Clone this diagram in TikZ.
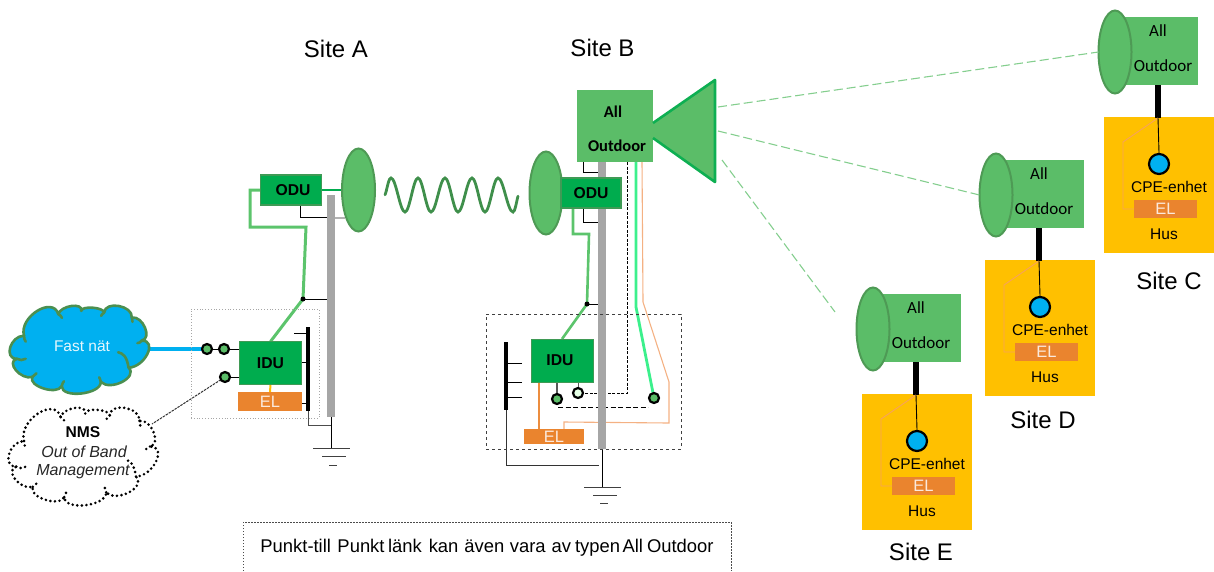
\documentclass[tikz,border=0pt]{standalone}
\usepackage{fontspec}
\setmainfont{Liberation Sans}
\newfontfamily\carlito{Carlito}
\usetikzlibrary{shapes.geometric,calc}
\definecolor{dishfill}{HTML}{5BBD68}
\definecolor{dishline}{HTML}{4E9A55}
\definecolor{idugreen}{HTML}{00AC4E}
\definecolor{iduline}{HTML}{3F9A55}
\definecolor{wirelight}{HTML}{5CC46C}
\definecolor{wiremint}{HTML}{3CF08C}
\definecolor{elorange}{HTML}{EA842E}
\definecolor{wireorange}{HTML}{F4B183}
\definecolor{hus}{HTML}{FFC000}
\definecolor{skyblue}{HTML}{00B0F0}
\definecolor{mastgrey}{HTML}{A6A6A6}
\definecolor{cloudline}{HTML}{4B8F50}
\definecolor{wavegreen}{HTML}{3F8F4B}
\definecolor{elwhite}{HTML}{FBE9DC}
\pgfdeclarelayer{wires}\pgfdeclarelayer{masts}
\pgfsetlayers{wires,masts,main}
\newcommand\fs[1]{\fontsize{#1}{#1}\selectfont}
\newcommand\cloudoutline{(13.3,30) .. controls (7.8,11.1) and (42.8,-10.6) .. (48.3,8.3)
  .. controls (50.6,-.6) and (74,-3.9) .. (71.7,5)
  .. controls (71.7,-.5) and (95,1.2) .. (95,6.7)
  .. controls (96.1,-5.6) and (124.4,-.6) .. (123.3,11.7)
  .. controls (134.5,9.6) and (144.5,32.9) .. (133.3,35)
  .. controls (150.1,34.5) and (136.8,61.8) .. (120,62.3)
  .. controls (130,71.9) and (101.7,86.3) .. (91.7,76.7)
  .. controls (91.7,89.4) and (51.7,93.7) .. (51.7,81)
  .. controls (47.2,90.3) and (17.2,81) .. (21.7,71.7)
  .. controls (10,75) and (-5.7,56.6) .. (6,53.3)
  .. controls (-7.9,53.3) and (-.6,30) .. (13.3,30) -- cycle}
\newcommand\cloudinner{(120,62.3) .. controls (118,50) and (114,48) .. (109.3,46.7)
  (6,53.3) .. controls (9,55) and (12,55) .. (15,53.3)
  (133.3,35) .. controls (132,37) and (131,37) .. (129,37.5)
  (13.3,30) .. controls (13,33) and (14,34) .. (15,36)
  (48.3,8.3) .. controls (50,9) and (51,10) .. (52,12)
  (95,6.7) .. controls (93,8) and (92.5,9) .. (92,10)
  (123.3,11.7) .. controls (124,13) and (124,14) .. (124,16)
  (21.7,71.7) .. controls (23,70) and (24,69) .. (26,68)
  (91.7,76.7) .. controls (91,74) and (90.5,73) .. (90,72)
  (51.7,81) .. controls (52,79) and (53,77.5) .. (54,76)}
\tikzset{
  x=1pt,y=-1pt,
  box/.style={rectangle,inner sep=0pt,outer sep=0pt},
  dish/.style={ellipse,inner sep=0pt,outer sep=0pt,minimum width=33,minimum height=83,fill=dishfill,draw=dishline,line width=2},
  unitbox/.style={box,fill=idugreen,draw=iduline,line width=1.5,font=\fs{15.7}\bfseries},
  elbox/.style={box,fill=elorange,text=elwhite,font=\fs{16.5}},
  aobox/.style={box,fill=dishfill},
  aotext/.style={font=\carlito\fs{17},inner sep=0pt},
  port/.style={circle,inner sep=0pt,outer sep=0pt,minimum size=10,fill=dishfill,draw=black,line width=2.2},
  label/.style={inner sep=0pt,font=\fs{15.5}},
  sitelabel/.style={inner sep=0pt,font=\fs{24}},
  mast/.style={box,fill=mastgrey,minimum width=8},
  bar/.style={box,fill=black,minimum width=3.6},
  thin/.style={black,line width=.8},
  greenw/.style={wirelight,line width=3},
  jdot/.style={circle,fill=black,inner sep=0pt,minimum size=5},
  gnd/.style={black!75,line width=1},
}
\newcommand\cpesite[4]{% prefix, dx, dy, box width
\begin{scope}[shift={(#2,#3)},name prefix=#1-]
  \node[box,fill=hus,minimum width=110,minimum height=136,anchor=north west] (house) at (862,394) {};
  \node[aobox,minimum width=#4,minimum height=68,anchor=west] (ao) at (883,328) {};
  \node[dish] (dish) at (873,329) {};
  \node[aotext] (all) at (916,308) {All};
  \node[aotext] (out) at (921,343) {Outdoor};
  \node[box,fill=black,minimum width=6,anchor=north,minimum height=33] (cable) at (916,362) {};
  \node[circle,inner sep=0pt,minimum size=20,fill=skyblue,draw=black,line width=2.2] (cpe) at (917,441) {};
  \node[label] (cpetext) at (927,464) {CPE-enhet};
  \node[elbox,minimum width=63,minimum height=18] (el) at (923.5,486) {EL};
  \node[label] (hustext) at (922,511) {Hus};
  \coordinate (b1) at (881,419);
  \draw[wireorange!70!orange,line width=.9] (cable.south) -- (b1) |- (el.west);
  \draw[black,line width=.9] (cable.south) -- (cpe.north);
\end{scope}}
\begin{document}
\begin{tikzpicture}
\useasboundingbox (0,0) rectangle (1214,571);
% ---- site labels
\node[sitelabel] (siteA) at (336,49) {Site A};
\node[sitelabel] (siteB) at (602.5,48) {Site B};
\node[sitelabel] (siteC) at (1169,281) {Site C};
\node[sitelabel] (siteD) at (1043,420) {Site D};
\node[sitelabel] (siteE) at (921,552) {Site E};
% ---- clouds
\begin{scope}[shift={(11,306)},xscale=.98,yscale=.99]
\draw[fill=skyblue,draw=cloudline,line width=2.6,line join=round] \cloudoutline;
\draw[cloudline,line width=2.6,line cap=round] \cloudinner;
\end{scope}
\node[box,minimum width=139,minimum height=88] (fast) at (79.5,349) {};
\node[inner sep=0pt,font=\fs{15.5},text=white!90!skyblue] (fasttext) at (82,346) {Fast nät};
\begin{scope}[shift={(10,408)},xscale=1.05,yscale=1.1]
\draw[draw=black,line width=2.9,line cap=round,dash pattern=on 0pt off 4.6pt] \cloudoutline;
\draw[draw=black,line width=2.9,line cap=round,dash pattern=on 0pt off 4.6pt] \cloudinner;
\end{scope}
\node[inner sep=0pt,font=\fs{15.6}\bfseries] (nmst) at (83,432) {NMS};
\node[inner sep=0pt,font=\fs{16}\itshape,text=black!85] (nmsa) at (84,452) {Out of Band};
\node[inner sep=0pt,font=\fs{16}\itshape,text=black!85] (nmsb) at (83,472) {Management};
\coordinate (nmsport) at (152,424);
% ---- Site A
\node[box,draw=black!35,dotted,line width=.8,minimum width=128,minimum height=109] (frameA) at (255,363.5) {};
\begin{pgfonlayer}{masts}
\node[mast,minimum height=222,anchor=north] (mastA) at (331,195) {};
\end{pgfonlayer}
\node[dish] (dishA) at (358.5,190) {};
\node[unitbox,minimum width=61,minimum height=30] (oduA) at (291,190) {\hspace{4pt}ODU};
\node[unitbox,minimum width=62,minimum height=43] (iduA) at (270.5,363) {IDU};
\node[elbox,minimum width=64,minimum height=19] (elA) at (270,401.5) {EL};
\node[port] (p1) at (207,349) {};
\node[port] (p2) at (224,349) {};
\node[port] (p3) at (225,377) {};
\node[bar,minimum height=84,anchor=north] (barA) at (308,327) {};
\node[jdot] (dotA) at (303,299) {};
\coordinate (gA1) at (331,448);
\coordinate (odA1) at (250,227);
\coordinate (odA2) at (306,227);
\coordinate (tA1) at (294,333);
\coordinate (tA2) at (302,362);
\coordinate (tA3) at (302,403);
\coordinate (gndA1) at (313,448);\coordinate (gndA2) at (350,448);
\coordinate (gndA3) at (322,456);\coordinate (gndA4) at (346,456);
\coordinate (gndA5) at (329,465);\coordinate (gndA6) at (337,465);
\begin{pgfonlayer}{wires}
\draw[skyblue,line width=3.4] (fast.east |- p1) -- (p1);
\draw[thin] (p1) -- (p2) -- (p2 -| iduA.west);
\draw[thin] (p3) -- (p3 -| iduA.west);
\draw[black!80,dash pattern=on 2.5pt off 1pt,line width=1] (p3) -- (nmsport);
\draw[greenw] (iduA.north) -- (dotA.center) -- (odA2) -- (odA1) |- (oduA.west);
\draw[thin] (dotA.center) -- (dotA -| mastA.west);
\draw[idugreen,line width=2.6] (oduA.east) -- (dishA.west);
\draw[thin] (oduA.south -| 300,0) |- (327,217);
\draw[black!30,line width=1.2] (327,218) -- (345,218);
\draw[hus,line width=2] (iduA.south) -- (elA.north);
\draw[thin] (tA1) -- (tA1 -| barA.center);
\draw[thin] (tA2) -- (tA2 -| barA.center);
\draw[thin] (tA3) -- (tA3 -| barA.center);
\draw[black!70,line width=1] (barA.south) |- (331,425);
\draw[thin] (mastA.south) -- (gA1);
\draw[gnd] (gndA1) -- (gndA2) (gndA3) -- (gndA4) (gndA5) -- (gndA6);
\end{pgfonlayer}
% ---- wave
\node[inner sep=0pt,minimum size=0pt] (waveS) at (385,195) {};
\node[inner sep=0pt,minimum size=0pt] (waveE) at (518,196) {};
\draw[wavegreen,line width=2.8,line cap=round] (waveS) -- (386,192) .. controls (388,184) and (389,178) .. (391,178)
  cos (398,195) sin (405,212) cos (411.5,195) sin (418,178) cos (424.5,195) sin (431,212)
  cos (438,195) sin (445,178) cos (451.5,195) sin (458,212) cos (465,195) sin (472,178)
  cos (478.5,195) sin (485,212) cos (491.5,195) sin (498,178) cos (505.5,195) sin (513,212)
  .. controls (515,212) and (516,204) .. (waveE);
% ---- Site B
\node[box,draw=black!75,dashed,line width=.9,minimum width=195,minimum height=135] (frameB) at (583.5,381.5) {};
\begin{pgfonlayer}{masts}
\node[mast,minimum height=287,anchor=north] (mastB) at (602,162) {};
\end{pgfonlayer}
\node[aobox,minimum width=76,minimum height=72] (aoB) at (615,126) {};
\node[aotext,font=\carlito\fs{16.5}\bfseries] (allB) at (613,112) {All};
\node[aotext,font=\carlito\fs{16.5}\bfseries] (outB) at (617,146) {Outdoor};
\node[dish] (dishB) at (546,193) {};
\node[unitbox,minimum width=60,minimum height=30] (oduB) at (591,193) {ODU};
\node[unitbox,minimum width=62,minimum height=43,line width=1] (iduB) at (562,360.5) {\hspace{-4pt}IDU};
\node[elbox,minimum width=60,minimum height=15] (elB) at (554,436.5) {EL};
\node[port] (q1) at (557,399) {};
\node[port,fill=green!10!white] (q2) at (578,393) {};
\node[port] (q3) at (654,398) {};
\node[bar,minimum height=68,anchor=north] (barB) at (506,342) {};
\node[jdot] (dotB) at (587,304) {};
\coordinate (hA) at (573,234);
\coordinate (hB) at (589,234);
\coordinate (tB1) at (522,363);\coordinate (tB2) at (522,382);\coordinate (tB3) at (522,397);
\coordinate (gB1) at (602,487);
\coordinate (gB2) at (506,465);
\coordinate (gB3) at (599,465);
\coordinate (gndB1) at (584,487);\coordinate (gndB2) at (621,487);
\coordinate (gndB3) at (593,495);\coordinate (gndB4) at (617,495);
\coordinate (gndB5) at (600,503);\coordinate (gndB6) at (608,503);
\coordinate (dash1) at (627,393);
\coordinate (dash2) at (583,393);
\coordinate (mint1) at (636,307);
\coordinate (or1) at (643,302);
\coordinate (or2) at (669,382);
\coordinate (or3) at (669,423);
\coordinate (or4) at (564,422);
\coordinate (low1) at (558,407);
\coordinate (low2) at (648,407);
\begin{pgfonlayer}{wires}
\draw[thin] (583,162) |- (598,172);
\draw[thin] (583,208) |- (598,222);
\draw[wirelight,line width=2.6] (573,208) |- (hB) -- (dotB.center) -- (iduB.north);
\draw[thin] (dotB.center) -- (dotB -| mastB.west);
\draw[black,dash pattern=on 3pt off 1.5pt,line width=1] (627,162) -- (dash1) -- (dash2);
\draw[wiremint,line width=2.8] (636,162) -- (mint1) -- (q3);
\draw[wireorange,line width=1.1] (642,162) -- (or1) -- (or2) -- (or3) -- (or4) -- (or4 |- elB.north);
\draw[elorange!80!wireorange,line width=2] (539,382) -- (539,429);
\draw[black!65,line width=1.2] (557,382) -- (q1);
\draw[black!65,line width=1] (578,382) -- (q2);
\draw[black,dash pattern=on 5pt off 2.5pt,line width=.9] (low1) -- (low2);
\draw[thin] (tB1) -- (tB1 -| barB.center);
\draw[thin] (tB2) -- (tB2 -| barB.center);
\draw[thin] (tB3) -- (tB3 -| barB.center);
\draw[black!80,line width=.9] (barB.south) -- (gB2) -- (gB3);
\draw[thin] (mastB.south) -- (gB1);
\draw[gnd] (gndB1) -- (gndB2) (gndB3) -- (gndB4) (gndB5) -- (gndB6);
\end{pgfonlayer}
% ---- sector antenna
\coordinate (tr1) at (653,123);
\coordinate (tr2) at (715,80);
\coordinate (tr3) at (715,182);
\coordinate (tr4) at (653,138);
\draw[fill=dishfill,draw=idugreen!85!dishfill,line width=2.6,line join=round] (tr1) -- (tr2) -- (tr3) -- (tr4);
% ---- remote sites
\cpesite{E}{0}{0}{78}
\cpesite{D}{123}{-134}{78}
\cpesite{C}{242}{-277}{73}
\coordinate (ray1) at (718,107);
\coordinate (ray2) at (718,131);
\coordinate (ray3) at (722,160);
\coordinate (ray3e) at (835,312);
\tikzset{ray/.style={dishfill!75!white,line width=1.1,dash pattern=on 9pt off 4pt}}
\draw[ray] (ray1) -- (C-dish.west);
\draw[ray] (ray2) -- (D-dish.west);
\draw[ray] (ray3) -- (ray3e);
% ---- note
\node[inner sep=0pt,font=\fs{18.4}] (note) at (487,548) {Punkt-till\hspace{6.5pt}Punkt\hspace{3.5pt}länk\hspace{7pt}kan\hspace{6pt}även\hspace{5.5pt}vara\hspace{6pt}av\hspace{4pt}typen\hspace{2.5pt}All\hspace{4pt}Outdoor};
\coordinate (n1) at (243,571);\coordinate (n2) at (243,522);\coordinate (n3) at (731,522);\coordinate (n4) at (731,571);
\draw[black!70,dash pattern=on 1.5pt off 1.5pt,line width=.8] (n1) -- (n2) -- (n3) -- (n4);
\end{tikzpicture}
\end{document}
